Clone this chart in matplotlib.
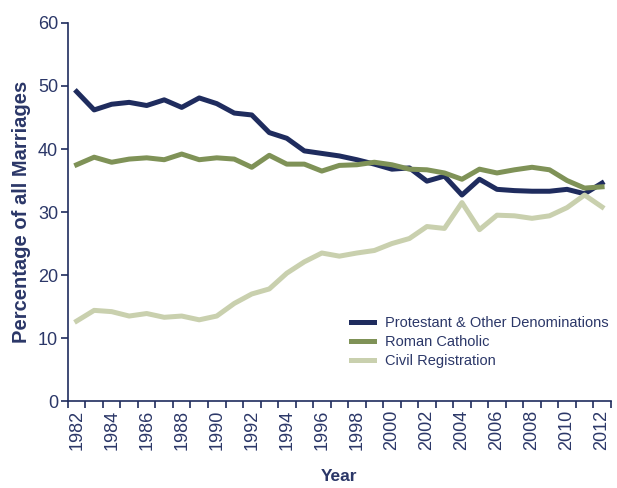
import matplotlib
matplotlib.use("Agg")
import matplotlib.pyplot as plt

plt.rcParams['font.family'] = ['Liberation Sans', 'DejaVu Sans']

years = list(range(1982, 2013))

protestant = [49.1, 46.2, 47.1, 47.4, 46.9, 47.8, 46.6, 48.1, 47.2, 45.7,
              45.4, 42.6, 41.7, 39.7, 39.3, 38.9, 38.3, 37.6, 36.8, 37.0,
              34.9, 35.7, 32.7, 35.2, 33.6, 33.4, 33.3, 33.3, 33.6, 32.9,
              34.6]
catholic = [37.5, 38.7, 37.9, 38.4, 38.6, 38.3, 39.2, 38.3, 38.6, 38.4,
            37.1, 39.0, 37.6, 37.6, 36.5, 37.4, 37.5, 37.9, 37.5, 36.8,
            36.7, 36.2, 35.2, 36.8, 36.2, 36.7, 37.1, 36.7, 35.0, 33.8,
            34.0]
civil = [12.7, 14.4, 14.2, 13.5, 13.9, 13.3, 13.5, 12.9, 13.5, 15.5,
         17.0, 17.8, 20.3, 22.1, 23.5, 23.0, 23.5, 23.9, 25.0, 25.8,
         27.7, 27.4, 31.5, 27.2, 29.5, 29.4, 29.0, 29.4, 30.7, 32.7,
         30.8]

navy = '#1f2c5e'
green = '#7f9257'
light = '#c9d0ae'
text_col = '#2b3768'

fig = plt.figure(figsize=(6.17, 4.88), dpi=100)
ax = fig.add_axes([0.110, 0.178, 0.880, 0.775])

ax.plot(years, protestant, color=navy, lw=3.6, label='Protestant & Other Denominations')
ax.plot(years, catholic, color=green, lw=3.6, label='Roman Catholic')
ax.plot(years, civil, color=light, lw=3.6, label='Civil Registration')

ax.set_xlim(1981.5, 2012.5)
ax.set_ylim(0, 60)
ax.set_yticks(range(0, 61, 10))
ax.set_xticks(years[::2])
ax.set_xticks([y + 0.5 for y in range(1981, 2013)], minor=True)
ax.tick_params(axis='x', which='major', length=0, rotation=90, labelsize=13,
               colors=text_col, pad=6)
ax.tick_params(axis='x', which='minor', length=5, width=1.2, color=navy)
ax.tick_params(axis='y', length=5, width=1.2, color=navy, labelsize=13,
               labelcolor=text_col, pad=2)

for s in ['top', 'right']:
    ax.spines[s].set_visible(False)
for s in ['left', 'bottom']:
    ax.spines[s].set_color(navy)
    ax.spines[s].set_linewidth(1.2)

ax.set_ylabel('Percentage of all Marriages', fontsize=14.5, fontweight='bold',
              color=text_col, labelpad=5)
ax.set_xlabel('Year', fontsize=12.5, fontweight='bold', color=text_col, labelpad=14)

leg = ax.legend(loc='upper left', bbox_to_anchor=(0.508, 0.245), frameon=False,
                fontsize=10.5, handlelength=1.6, handletextpad=0.7,
                labelspacing=0.35, borderpad=0)
for t in leg.get_texts():
    t.set_color(text_col)

fig.savefig('out.png', dpi=100)
